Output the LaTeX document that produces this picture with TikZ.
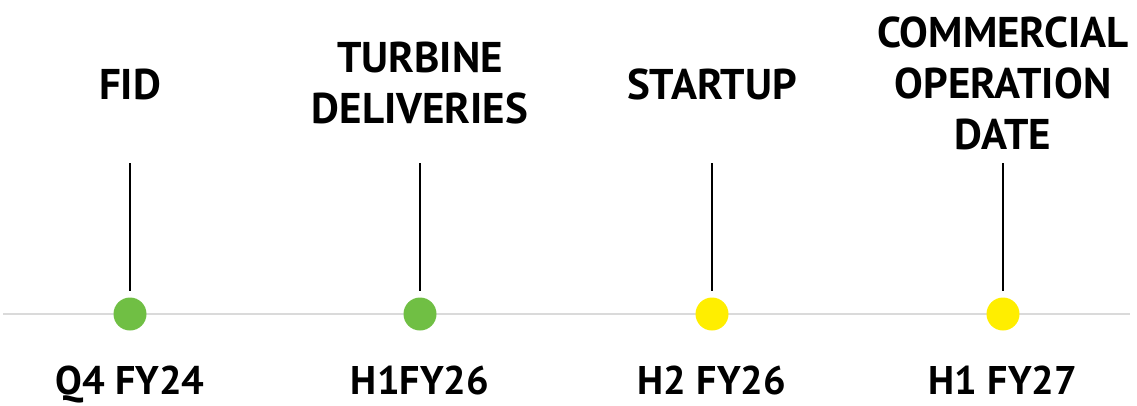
\documentclass[tikz,border=0pt]{standalone}
\usepackage{fontspec}
\setmainfont{PT Sans}
\usetikzlibrary{positioning}
\definecolor{msgreen}{HTML}{70BF44}
\definecolor{msyellow}{HTML}{FFEE00}
\definecolor{axisgray}{HTML}{DADADA}
\begin{document}
\begin{tikzpicture}[x=1pt, y=-1pt,
    dot/.style={circle, fill=#1, minimum size=33pt, inner sep=0pt},
    milestone/.style={align=center, font=\bfseries\fontsize{43}{51}\selectfont},
    datelabel/.style={anchor=base, inner sep=0pt, font=\bfseries\fontsize{40}{48}\selectfont}]
      \useasboundingbox (0,0) rectangle (1137,405);
      \coordinate (a0) at (3,314);
      \coordinate (a1) at (1130,314);
      \draw[axisgray, line width=1.6pt] (a0) -- (a1);

      \node[dot=msgreen] (d1) at (130,314) {};
      \node[dot=msgreen] (d2) at (420,314) {};
      \node[dot=msyellow] (d3) at (712,314) {};
      \node[dot=msyellow] (d4) at (1003,314) {};

      \coordinate (t1) at (130,163);
      \coordinate (t2) at (420,163);
      \coordinate (t3) at (712,163);
      \coordinate (t4) at (1003,163);

      \draw[line width=2.6pt] (t1) -- ([yshift=6pt]d1.north);
      \draw[line width=2.6pt] (t2) -- ([yshift=6pt]d2.north);
      \draw[line width=2.6pt] (t3) -- ([yshift=6pt]d3.north);
      \draw[line width=2.6pt] (t4) -- ([yshift=6pt]d4.north);

      \node[milestone] (l1) at (130,84) {FID};
      \node[milestone] (l2) at (420,83) {TURBINE\\DELIVERIES};
      \node[milestone] (l3) at (712,84) {STARTUP};
      \node[milestone] (l4) at (1003,83) {COMMERCIAL\\OPERATION\\DATE};

      \node[datelabel] (q1) at (130,394) {Q4 FY24};
      \node[datelabel] (q2) at (420,394) {H1FY26};
      \node[datelabel] (q3) at (712,394) {H2 FY26};
      \node[datelabel] (q4) at (1003,394) {H1 FY27};
    \end{tikzpicture}
\end{document}
